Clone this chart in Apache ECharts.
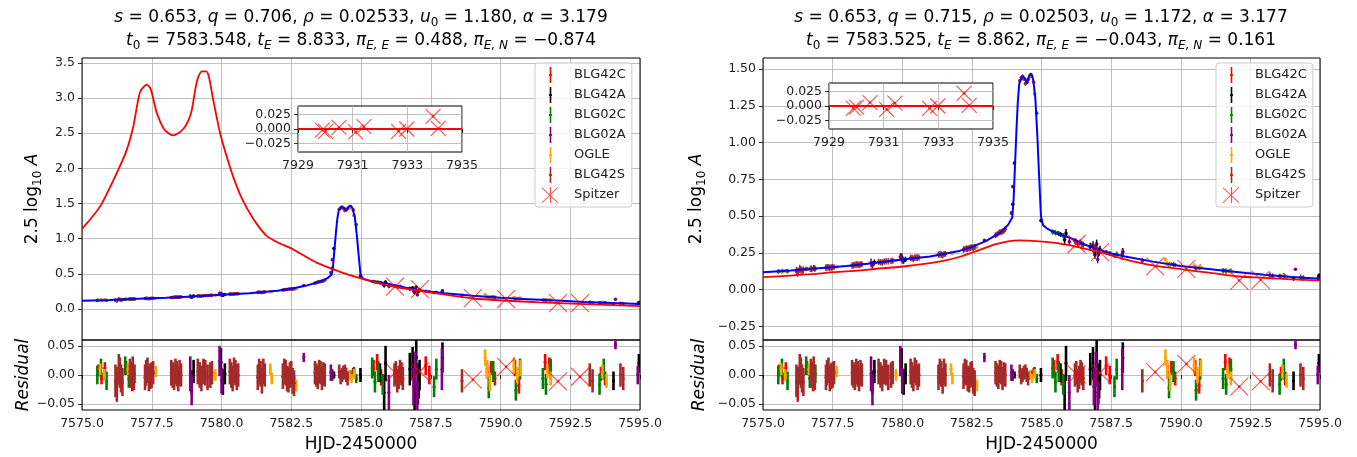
<!DOCTYPE html>
<html><head><meta charset="utf-8">
<script src="https://cdn.jsdelivr.net/npm/echarts@6/dist/echarts.min.js"></script>
<style>html,body{margin:0;padding:0;background:#fff}#c{width:1357px;height:457px}</style>
</head><body><div id="c"></div>
<script>
// ---------------- DATA ----------------
const names = ['BLG42C','BLG42A','BLG02C','BLG02A','OGLE','BLG42S'];
const colors = ['#ff0000','#000000','#008000','#800080','#ffa500','#a52a2a'];
// rows: [HJD-2450000, 2.5log10A, residual, error]
const blg42c = [
 [7575.58,0.124,0.008,0.01],[7575.7,0.126,-0.006,0.01],[7575.82,0.127,0.012,0.01],
 [7576.58,0.139,0.012,0.012],[7576.7,0.141,-0.008,0.012],[7576.8,0.142,-0.016,0.012],
 [7584.62,1.45,0.002,0.006],[7584.72,1.41,0.006,0.006],
 [7585.45,0.392,0.012,0.014],[7585.58,0.384,0.022,0.014],[7585.72,0.372,-0.004,0.014],
 [7587.32,0.253,0.016,0.016],[7587.45,0.246,0.0,0.016],
 [7589.52,0.176,0.006,0.012],[7589.66,0.172,0.012,0.012],[7589.8,0.167,-0.006,0.012],
 [7590.52,0.153,0.012,0.014],[7590.66,0.148,-0.018,0.014],
 [7591.6,0.129,0.022,0.014],[7591.75,0.125,0.016,0.014],
 [7593.6,0.093,0.002,0.012],[7593.75,0.09,-0.006,0.012]
];
const blg42a = [
 [7578.93,0.172,-0.012,0.02],[7579.0,0.185,0.006,0.02],
 [7579.98,0.222,0.022,0.024],[7580.05,0.198,-0.012,0.022],[7580.12,0.206,0.002,0.018],
 [7583.97,0.58,0.0,0.006],[7584.03,0.86,0.0,0.006],[7584.98,0.47,0.0,0.012],
 [7585.68,0.376,0.004,0.016],[7585.83,0.338,-0.03,0.03],[7585.88,0.382,0.02,0.03],
 [7586.75,0.29,0.01,0.028],[7586.85,0.300,0.02,0.028],[7586.92,0.24,-0.03,0.03],[7586.98,0.31,0.03,0.03],
 [7587.04,0.252,-0.02,0.03],[7587.07,0.26,-0.01,0.03],[7587.1,0.272,0.0,0.026],[7587.92,0.256,0.03,0.026],
 [7594.05,0.076,-0.01,0.016],[7594.96,0.094,0.02,0.016]
];
const blg02c = [
 [7575.55,0.123,0.0,0.016],[7575.68,0.126,0.012,0.016],[7575.88,0.125,-0.01,0.016],
 [7576.55,0.14,0.016,0.016],[7576.68,0.139,-0.006,0.016],[7576.88,0.141,0.002,0.016],
 [7584.75,1.33,0.006,0.008],[7584.83,1.2,-0.006,0.008],
 [7585.4,0.392,0.012,0.018],[7585.5,0.386,-0.012,0.018],[7585.62,0.381,0.006,0.018],[7585.78,0.366,-0.016,0.018],
 [7587.62,0.232,-0.02,0.018],[7587.7,0.24,0.01,0.018],
 [7589.58,0.167,-0.022,0.018],[7589.74,0.171,0.006,0.018],
 [7590.55,0.144,-0.026,0.018],[7590.7,0.152,0.01,0.018],
 [7591.52,0.128,-0.006,0.018],[7591.63,0.125,-0.016,0.018],[7591.8,0.126,0.01,0.018],
 [7593.55,0.09,-0.016,0.018],[7593.7,0.094,0.01,0.018]
];
const blg02a = [
 [7578.88,0.182,0.002,0.03],[7578.93,0.168,-0.026,0.026],
 [7579.93,0.222,0.024,0.026],[7580.0,0.197,-0.01,0.022],
 [7582.95,0.335,0.03,0.008],[7583.92,0.52,0.004,0.014],[7583.97,0.7,0.0,0.01],
 [7586.0,0.325,-0.03,0.03],[7586.88,0.262,-0.02,0.032],[7586.95,0.29,0.01,0.03],
 [7587.02,0.205,-0.036,0.026],[7587.9,0.24,0.01,0.036],
 [7594.12,0.138,0.052,0.008],[7594.92,0.076,0.0,0.016]
];
const ogle = [
 [7575.65,0.126,0.01,0.01],[7575.8,0.127,0.0,0.01],[7576.65,0.14,0.01,0.01],[7576.8,0.142,0.004,0.01],
 [7577.65,0.154,0.006,0.01],[7579.78,0.198,0.0,0.01],[7581.75,0.25,0.01,0.01],[7581.8,0.246,-0.006,0.01],
 [7582.62,0.284,-0.012,0.01],[7582.68,0.287,-0.018,0.01],
 [7584.45,1.42,0.006,0.008],[7584.58,1.46,0.0,0.008],[7584.66,1.45,-0.006,0.008],[7584.76,1.33,0.002,0.008],
 [7589.45,0.205,0.03,0.014],[7589.52,0.18,0.01,0.016],[7589.62,0.165,-0.012,0.016],
 [7590.48,0.165,0.016,0.014],[7590.6,0.15,0.0,0.014],[7590.72,0.152,0.012,0.014],
 [7591.68,0.128,0.006,0.012],[7591.8,0.122,-0.006,0.012],[7593.65,0.096,0.006,0.012],[7593.8,0.087,-0.01,0.012]
];
const blg42s = [
 [7576.2,0.125,-0.01,0.028],[7576.25,0.118,-0.016,0.03],[7576.32,0.142,0.01,0.026],[7576.36,0.135,0.004,0.026],
 [7576.4,0.13,-0.006,0.024],[7576.45,0.134,-0.012,0.024],
 [7576.72,0.141,0.006,0.022],[7576.75,0.14,0.0,0.022],[7576.82,0.146,0.01,0.022],[7576.86,0.143,-0.004,0.022],
 [7577.26,0.15,-0.004,0.022],[7577.3,0.152,0.004,0.022],[7577.35,0.151,0.008,0.022],[7577.4,0.148,-0.006,0.022],
 [7577.45,0.15,-0.002,0.022],[7577.5,0.153,0.0,0.022],[7577.55,0.153,0.004,0.02],
 [7578.2,0.164,0.004,0.022],[7578.25,0.165,0.0,0.022],[7578.3,0.168,-0.004,0.022],[7578.35,0.171,0.006,0.022],
 [7578.4,0.17,0.002,0.022],[7578.45,0.167,-0.006,0.022],[7578.5,0.171,0.004,0.022],[7578.55,0.172,0.0,0.02],
 [7579.15,0.188,0.006,0.022],[7579.22,0.186,0.0,0.022],[7579.28,0.184,-0.006,0.022],[7579.35,0.19,0.006,0.022],
 [7579.42,0.192,0.004,0.022],[7579.5,0.192,-0.004,0.022],[7579.6,0.195,0.0,0.022],[7579.66,0.196,0.004,0.02],
 [7580.3,0.215,0.006,0.022],[7580.35,0.214,0.0,0.022],[7580.4,0.21,-0.006,0.022],[7580.45,0.216,0.008,0.022],
 [7580.5,0.218,0.004,0.022],[7580.55,0.217,-0.004,0.022],[7580.6,0.218,0.0,0.02],
 [7581.3,0.238,-0.004,0.022],[7581.35,0.24,0.006,0.022],[7581.4,0.239,0.002,0.022],[7581.45,0.234,-0.01,0.022],
 [7581.5,0.241,0.006,0.022],[7581.55,0.243,0.0,0.02],
 [7582.2,0.272,-0.002,0.022],[7582.25,0.275,0.006,0.022],[7582.3,0.279,0.004,0.022],[7582.35,0.277,-0.006,0.022],
 [7582.4,0.281,-0.008,0.022],[7582.45,0.285,0.0,0.022],[7582.5,0.287,0.002,0.022],[7582.55,0.285,-0.01,0.022],
 [7582.6,0.29,-0.014,0.022],
 [7583.35,0.37,0.004,0.02],[7583.4,0.375,0.0,0.02],[7583.45,0.383,-0.004,0.02],[7583.5,0.39,0.006,0.02],
 [7583.55,0.39,0.004,0.02],[7583.6,0.395,-0.006,0.02],[7583.65,0.40,0.002,0.02],[7583.7,0.41,0.0,0.02],
 [7584.22,1.42,0.006,0.012],[7584.27,1.44,-0.004,0.012],[7584.32,1.45,0.0,0.012],[7584.37,1.43,0.004,0.012],
 [7584.42,1.40,0.006,0.012],[7584.47,1.41,0.0,0.012],[7584.52,1.43,-0.006,0.012],
 [7586.2,0.33,0.0,0.02],[7586.25,0.325,0.004,0.02],[7586.3,0.315,-0.01,0.02],[7586.35,0.318,-0.004,0.02],
 [7586.4,0.322,0.006,0.02],[7586.45,0.31,0.002,0.02],[7586.5,0.305,-0.006,0.02],
 [7588.62,0.195,-0.01,0.02],[7593.2,0.097,0.0,0.02],[7593.3,0.09,-0.01,0.02],
 [7594.3,0.082,0.0,0.02],[7594.4,0.078,-0.006,0.02]
];
const groundSets = [blg42c, blg42a, blg02c, blg02a, ogle, blg42s];

// ground-based model (blue), same in both panels
const blueT = [7575,7576,7577,7578,7579,7580,7581,7582,7582.5,7583,7583.5,7583.8,7583.95,7584.0,7584.05,7584.1,7584.15,7584.2,7584.3,7584.4,7584.48,7584.55,7584.63,7584.7,7584.78,7584.85,7584.92,7584.98,7585.05,7585.2,7585.5,7586.0,7586.5,7587.0,7587.5,7588,7589,7590,7591,7592,7593,7594,7595];
const blueY = [0.118,0.13,0.145,0.16,0.18,0.205,0.225,0.26,0.29,0.33,0.385,0.44,0.49,0.62,0.85,1.08,1.28,1.40,1.45,1.44,1.40,1.45,1.47,1.43,1.30,1.05,0.75,0.5,0.44,0.415,0.385,0.355,0.31,0.275,0.245,0.225,0.19,0.16,0.14,0.12,0.1,0.085,0.073];

// Spitzer model (red), left panel
const redLT = [7575,7575.65,7576.24,7576.6,7576.84,7577.0,7577.1,7577.32,7577.45,7577.55,7577.68,7577.92,7578.1,7578.27,7578.45,7578.63,7578.8,7578.93,7579.05,7579.15,7579.3,7579.45,7579.55,7579.7,7579.95,7580.2,7580.42,7580.7,7581.02,7581.3,7581.62,7582.0,7582.46,7583.0,7583.41,7584.25,7584.96,7586.04,7587.11,7589.03,7591.4,7595];
const redLY = [1.14,1.46,1.93,2.26,2.6,2.95,3.1,3.19,3.14,3.0,2.79,2.57,2.5,2.47,2.5,2.56,2.67,2.82,3.1,3.28,3.38,3.38,3.3,2.98,2.5,2.15,1.88,1.6,1.36,1.19,1.04,0.95,0.87,0.75,0.66,0.53,0.44,0.33,0.26,0.15,0.095,0.043];
// Spitzer model (red), right panel
const redRT = [7575,7576,7577,7577.52,7578.5,7579,7580.04,7581,7581.6,7582.1,7582.55,7583.0,7583.4,7583.8,7584.23,7584.8,7585.42,7585.9,7586.26,7587.1,7588,7589.0,7590.2,7591,7592.1,7593,7594,7595];
const redRY = [0.084,0.095,0.108,0.118,0.13,0.14,0.157,0.18,0.2,0.225,0.254,0.285,0.31,0.328,0.334,0.33,0.32,0.305,0.29,0.254,0.205,0.164,0.134,0.115,0.089,0.08,0.07,0.061];

// Spitzer points
const spzLT = [7586.22,7587.11,7589.01,7590.2,7592.06,7592.85];
const spzLMag = [0.318,0.285,0.157,0.142,0.085,0.085];
const spzLRes = [0.004,0.006,-0.008,0.014,-0.011,-0.003];
const spzRT = [7586.26,7587.1,7589.08,7590.2,7592.1,7592.87];
const spzRMag = [0.31,0.254,0.157,0.141,0.061,0.066];
const spzRRes = [0.001,0.004,0.005,0.019,-0.02,-0.011];
// inset (Spitzer residuals)
const insetT = [7929.89,7930.01,7930.5,7931.11,7931.41,7932.68,7932.98,7933.94,7934.13];
const insetLRes = [-0.002,-0.004,0.003,-0.005,0.004,-0.004,0.0,0.022,0.001];
const insetRRes = [-0.004,-0.002,0.006,-0.006,0.005,-0.004,0.0,0.022,0.001];

// tick values
const yTicksL = [0,0.5,1,1.5,2,2.5,3,3.5];
const yTicksR = [-0.25,0,0.25,0.5,0.75,1,1.25,1.5];
const resTicks = [-0.05,0,0.05];
const insetYTicks = [-0.025,0,0.025];

const titleL = ['{i|s}{n| = 0.653, }{i|q}{n| = 0.706, }{i|ρ}{n| = 0.02533, }{i|u}{sub|0}{n| = 1.180, }{i|α}{n| = 3.179}',
  '{i|t}{sub|0}{n| = 7583.548, }{i|t}{subi|E}{n| = 8.833, }{i|π}{subi|E, E}{n| = 0.488, }{i|π}{subi|E, N}{n| = −0.874}'];
const titleR = ['{i|s}{n| = 0.653, }{i|q}{n| = 0.715, }{i|ρ}{n| = 0.02503, }{i|u}{sub|0}{n| = 1.172, }{i|α}{n| = 3.177}',
  '{i|t}{sub|0}{n| = 7583.525, }{i|t}{subi|E}{n| = 8.862, }{i|π}{subi|E, E}{n| = −0.043, }{i|π}{subi|E, N}{n| = 0.161}'];

// ---------------- CHART ----------------
const F = 'DejaVu Sans';
const fmt = d => v => (v < -1e-12 ? '−' : '') + Math.abs(v).toFixed(d);
const SPZ = 'rgba(255,0,0,0.7)';

const grids = [
  {left:82, top:58, width:558, height:282, z:1},
  {left:82, top:340, width:558, height:70, z:1},
  {left:298, top:106, width:164, height:46, z:10, backgroundColor:'#fff'},
  {left:763, top:58, width:557, height:282, z:1},
  {left:763, top:340, width:557, height:70, z:1},
  {left:829, top:83, width:164, height:46, z:10, backgroundColor:'#fff'}
].map(g => Object.assign({show:true, borderColor:'#000', borderWidth:1, backgroundColor:'transparent'}, g));

const tickStyle = {show:true, inside:false, length:4, lineStyle:{color:'#000', width:0.8}};
const labStyle = {color:'#222', fontSize:12.5, fontFamily:F, margin:7};
const splitStyle = {show:true, lineStyle:{color:'#b0b0b0', width:0.8}};

function xAx(gi, kind) {
  const inset = kind === 'inset';
  const o = {type:'value', gridIndex:gi, axisLine:{show:false},
    min: inset ? 7929 : 7575, max: inset ? 7935 : 7595, interval: inset ? 2 : 2.5,
    axisTick: Object.assign({}, tickStyle, {show: kind !== 'main'}),
    axisLabel: Object.assign({}, labStyle, {show: kind !== 'main', formatter: inset ? (v => String(Math.round(v))) : fmt(1)}),
    splitLine: splitStyle, z: inset ? 11 : 0};
  if (kind === 'res') {
    o.name = 'HJD-2450000'; o.nameLocation = 'middle'; o.nameGap = 26;
    o.nameTextStyle = {fontSize:17, fontFamily:F, color:'#000'};
  }
  return o;
}
const nameRich = {
  n:{fontSize:17, fontFamily:F, color:'#000', lineHeight:22},
  i:{fontSize:17, fontFamily:F, color:'#000', fontStyle:'italic', lineHeight:22},
  s:{fontSize:12, fontFamily:F, color:'#000', lineHeight:10, verticalAlign:'bottom'}
};
function yAx(gi, min, max, ticks, dec, name, gap, z) {
  const o = {type:'value', gridIndex:gi, min, max, axisLine:{show:false},
    axisTick: Object.assign({}, tickStyle, {customValues:ticks}),
    axisLabel: Object.assign({}, labStyle, {customValues:ticks, formatter:fmt(dec)}),
    splitLine: splitStyle, z: z || 0};
  if (name) {
    o.name = name; o.nameLocation = 'middle'; o.nameGap = gap; o.nameRotate = 90;
    o.nameTextStyle = {fontSize:17, fontFamily:F, color:'#000', rich:nameRich};
  }
  return o;
}

const xAxis = [xAx(0,'main'), xAx(1,'res'), xAx(2,'inset'), xAx(3,'main'), xAx(4,'res'), xAx(5,'inset')];
const yAxis = [
  yAx(0, -0.44, 3.57, yTicksL, 1, '{n|2.5 log}{s|10}{i| A}', 38),
  yAx(1, -0.06, 0.06, resTicks, 2, 'Residual', 50),
  yAx(2, -0.04, 0.04, insetYTicks, 3, null, 0, 11),
  yAx(3, -0.343, 1.575, yTicksR, 2, '{n|2.5 log}{s|10}{i| A}', 55),
  yAx(4, -0.06, 0.06, resTicks, 2, 'Residual', 55),
  yAx(5, -0.04, 0.04, insetYTicks, 3, null, 0, 11)
];
yAxis[1].nameTextStyle.fontStyle = 'italic';
yAxis[4].nameTextStyle.fontStyle = 'italic';

function clipOf(params) {
  const cs = params.coordSys;
  return {type:'rect', shape:{x:cs.x, y:cs.y, width:cs.width, height:cs.height}};
}
function errSeries(name, color, rows, ai, vi, lw, r, z) {
  return {type:'custom', name, xAxisIndex:ai, yAxisIndex:ai, z, animation:false,
    itemStyle:{color}, encode:{x:0, y:1},
    data: rows.map(row => [row[0], row[vi], row[3]]),
    renderItem: (params, api) => {
      const x = api.value(0), y = api.value(1), e = api.value(2);
      const c = api.coord([x, y]), lo = api.coord([x, y - e]), hi = api.coord([x, y + e]);
      return {type:'group', clipPath: clipOf(params), children:[
        {type:'line', shape:{x1:c[0], y1:lo[1], x2:c[0], y2:hi[1]}, style:{stroke:color, lineWidth:lw}},
        {type:'circle', shape:{cx:c[0], cy:c[1], r:r}, style:{fill:color}}
      ]};
    }};
}
function crossSeries(ts, vals, ai, h, z) {
  return {type:'custom', name:'Spitzer', xAxisIndex:ai, yAxisIndex:ai, z, animation:false,
    itemStyle:{color:SPZ}, encode:{x:0, y:1},
    data: ts.map((t, i) => [t, vals[i]]),
    renderItem: (params, api) => {
      const c = api.coord([api.value(0), api.value(1)]);
      const st = {stroke:SPZ, lineWidth:1.1};
      return {type:'group', clipPath: clipOf(params), children:[
        {type:'line', shape:{x1:c[0]-h, y1:c[1]-h, x2:c[0]+h, y2:c[1]+h}, style:st},
        {type:'line', shape:{x1:c[0]+h, y1:c[1]-h, x2:c[0]-h, y2:c[1]+h}, style:st},
        {type:'circle', shape:{cx:c[0], cy:c[1], r:1.3}, style:{fill:SPZ}}
      ]};
    }};
}
function lineSeries(name, ts, ys, ai, color, w, z, smooth) {
  return {type:'line', name, xAxisIndex:ai, yAxisIndex:ai, z, animation:false, smooth: smooth || false,
    showSymbol:false, symbol:'none', data: ts.map((t, i) => [t, ys[i]]),
    lineStyle:{color, width:w}, itemStyle:{color}};
}

const series = [];
[[0, redLT, redLY, spzLT, spzLMag, spzLRes, insetLRes, 0.25], [3, redRT, redRY, spzRT, spzRMag, spzRRes, insetRRes, 0.3]].forEach(p => {
  const [m, rT, rY, sT, sM, sR, iR, sm] = p;
  groundSets.forEach((rows, k) => {
    series.push(errSeries(names[k], colors[k], rows, m, 1, 1.5, 1.8, 2));
    series.push(errSeries(names[k], colors[k], rows, m + 1, 2, 2.6, 1.6, 2));
  });
  series.push(lineSeries('ground model', blueT, blueY, m, '#0000ff', 2, 3));
  series.push(lineSeries('Spitzer model', rT, rY, m, '#ff0000', 1.8, 4, sm));
  series.push(crossSeries(sT, sM, m, 9, 6));
  series.push(crossSeries(sT, sR, m + 1, 9, 6));
  series.push(lineSeries('inset zero', [7929, 7935], [0, 0], m + 2, '#ff0000', 1.8, 12));
  series.push(crossSeries(insetT, iR, m + 2, 7.5, 13));
});

const barIcon = 'path://M0,0h0.01v0.01h-0.01z M27.99,15.99h0.01v0.01h-0.01z M8.7,0h1.6v16h-1.6z M8.1,7h2.8v2h-2.8z';
const xIcon = 'path://M0,0h0.01v0.01h-0.01z M27.99,15.99h0.01v0.01h-0.01z M1.4,0.4L17.4,15.4L16.6,16L0.6,1z M16.6,0L17.4,0.6L1.4,16L0.6,15.4z M8.9,0h1.2v16h-1.2z';
const legendData = names.map((n, i) => ({name:n, icon:barIcon, itemStyle:{color:colors[i]}}))
  .concat([{name:'Spitzer', icon:xIcon, itemStyle:{color:SPZ}}]);
const legend = [535, 1216].map(l => ({left:l, top:63, orient:'vertical', itemWidth:28, itemHeight:16, itemGap:4,
  padding:[4,6,4,6], backgroundColor:'rgba(255,255,255,0.8)', borderColor:'#cccccc', borderWidth:1, borderRadius:3,
  selectedMode:false, z:8, textStyle:{fontSize:13, fontFamily:F, color:'#222'}, data:legendData}));

const titleRich = {
  n:{fontSize:17, fontFamily:F, color:'#000', fontWeight:'normal', lineHeight:23},
  i:{fontSize:17, fontFamily:F, color:'#000', fontWeight:'normal', fontStyle:'italic', lineHeight:23},
  sub:{fontSize:12, fontFamily:F, color:'#000', fontWeight:'normal', lineHeight:12, verticalAlign:'bottom'},
  subi:{fontSize:12, fontFamily:F, color:'#000', fontWeight:'normal', fontStyle:'italic', lineHeight:12, verticalAlign:'bottom'}
};
const title = [[361, titleL], [1041, titleR]].map(([x, t]) => ({left:x, top:6, padding:0, textAlign:'center',
  text: t.join('\n'), textStyle:{rich:titleRich, fontSize:17, fontWeight:'normal', fontFamily:F, color:'#000', lineHeight:23}}));

const chart = echarts.init(document.getElementById('c'), null, {renderer:'canvas'});
chart.setOption({backgroundColor:'#fff', animation:false, title, legend, grid:grids, xAxis, yAxis, series});
</script></body></html>
